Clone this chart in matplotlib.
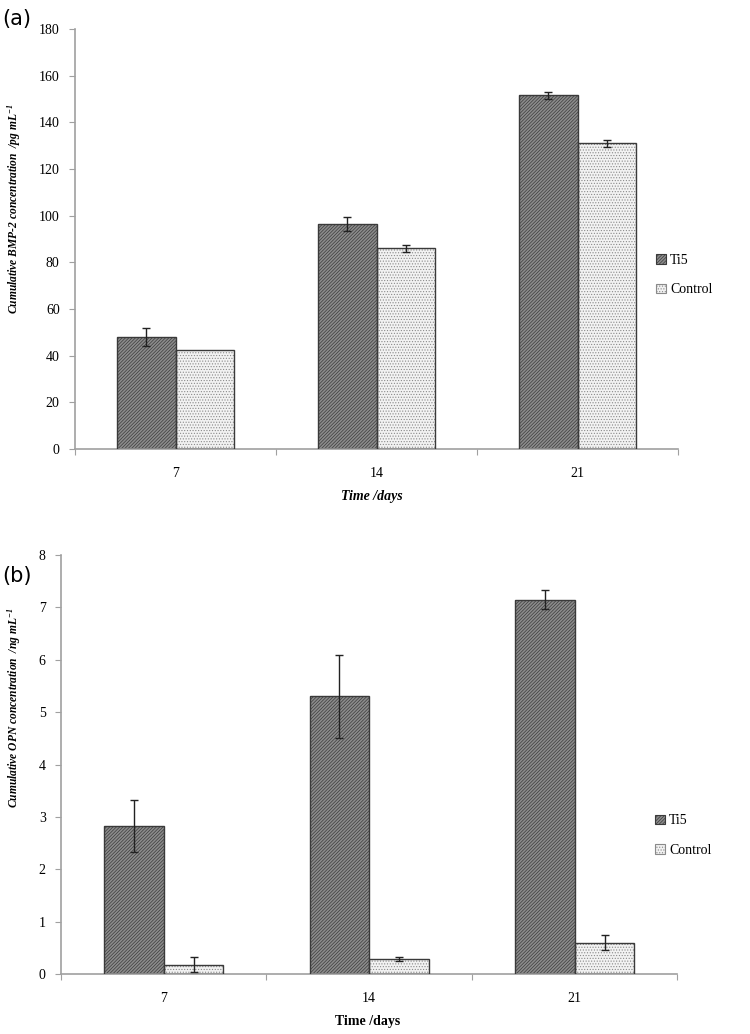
import matplotlib
matplotlib.use("Agg")
import matplotlib.pyplot as plt
import numpy as np
from matplotlib.patches import Patch

days = ["7", "14", "21"]
series = ["Ti5", "Control"]

bmp_ti5 = [48.0, 96.5, 151.5]
bmp_ti5_err = [4.0, 3.0, 1.5]
bmp_ctrl = [42.5, 86.0, 131.0]
bmp_ctrl_err = [0.0, 1.5, 1.5]

opn_ti5 = [2.83, 5.30, 7.15]
opn_ti5_err = [0.50, 0.80, 0.18]
opn_ctrl = [0.18, 0.28, 0.60]
opn_ctrl_err = [0.15, 0.04, 0.14]

plt.rcParams['font.family'] = ['Liberation Serif', 'DejaVu Serif']
plt.rcParams['hatch.linewidth'] = 0.5
plt.rcParams['mathtext.fontset'] = 'custom'
plt.rcParams['mathtext.rm'] = 'Liberation Serif'
plt.rcParams['mathtext.it'] = 'Liberation Serif:italic'
plt.rcParams['mathtext.bf'] = 'Liberation Serif:bold:italic'

fig = plt.figure(figsize=(7.5, 10.34), dpi=100)

AXC = '#a0a0a0'
TI_FACE, TI_HATCH, TI_PAT = '#8c8c8c', '#3a3a3a', '//////////'
CT_FACE, CT_HATCH, CT_PAT = '#f2f2f2', '#8a8a8a', '......'
EDGE = '#3a3a3a'
FS = 10


def panel(rect, ti, tie, ct, cte, ymax, ystep, ylabel, xlabel_style, leg_x, leg_y,
          ylab_xy, xlab_xy):
    ax = fig.add_axes(rect)
    x = np.arange(len(days)) + 0.5
    w = 0.29
    for vals, errs, off, face, hc, pat in [(ti, tie, -w / 2, TI_FACE, TI_HATCH, TI_PAT),
                                           (ct, cte, w / 2, CT_FACE, CT_HATCH, CT_PAT)]:
        ax.bar(x + off, vals, w, color=face, edgecolor=hc, linewidth=0, hatch=pat, zorder=2)
        ax.bar(x + off, vals, w, fill=False, edgecolor=EDGE, linewidth=1.0, zorder=3)
        e = np.asarray(errs, dtype=float)
        m = e > 0
        ax.errorbar((x + off)[m], np.asarray(vals)[m], yerr=e[m], fmt='none', ecolor='#222222',
                    elinewidth=1.0, capsize=3, capthick=1.0, zorder=4)
    ax.set_xlim(0, len(days))
    ax.set_ylim(0, ymax)
    ax.set_yticks(np.arange(0, ymax + ystep / 2, ystep))
    ax.set_xticks(np.arange(0, len(days) + 1), minor=False)
    ax.set_xticklabels([])
    ax.set_xticks(x, minor=True)
    ax.set_xticklabels(days, minor=True)
    ax.tick_params(axis='x', which='major', length=4, color=AXC, direction='out')
    ax.tick_params(axis='x', which='minor', length=0, pad=13, labelsize=FS)
    ax.tick_params(axis='y', length=4, color=AXC, labelsize=FS, pad=7)
    for s in ['top', 'right']:
        ax.spines[s].set_visible(False)
    for s in ['left', 'bottom']:
        ax.spines[s].set_color(AXC)
        ax.spines[s].set_linewidth(1.2)
    ax.set_ylabel(ylabel, fontsize=8.3, fontweight='bold', fontstyle='italic')
    ax.yaxis.set_label_coords(*ylab_xy)
    ax.set_xlabel('Time /days', fontsize=FS, fontweight='bold', fontstyle=xlabel_style)
    ax.xaxis.set_label_coords(*xlab_xy)
    handles = [Patch(facecolor=TI_FACE, edgecolor=TI_HATCH, hatch=TI_PAT, linewidth=0.8),
               Patch(facecolor=CT_FACE, edgecolor=CT_HATCH, hatch=CT_PAT, linewidth=0.8)]
    ax.legend(handles, series, loc='center left', bbox_to_anchor=(leg_x, leg_y), frameon=False,
              fontsize=FS, handlelength=0.7, handleheight=0.7, handletextpad=0.3, labelspacing=1.2,
              borderaxespad=0.0)
    return ax


ax1 = panel([0.100, 0.5658, 0.804, 0.4062], bmp_ti5, bmp_ti5_err, bmp_ctrl, bmp_ctrl_err,
            180, 20, 'Cumulative BMP-2 concentration  /pg mL$^{\\mathbf{-1}}$', 'italic', 0.955, 0.414,
            (-0.086, 0.571), (0.493, -0.098))
ax2 = panel([0.0813, 0.058, 0.822, 0.4052], opn_ti5, opn_ti5_err, opn_ctrl, opn_ctrl_err,
            8, 1, 'Cumulative OPN concentration  /ng mL$^{\\mathbf{-1}}$', 'normal', 0.955, 0.33,
            (-0.062, 0.635), (0.497, -0.098))

fig.text(0.003, 0.982, '(a)', fontsize=15, family='DejaVu Sans', va='center', ha='left')
fig.text(0.003, 0.443, '(b)', fontsize=15, family='DejaVu Sans', va='center', ha='left')

fig.savefig('out.png', dpi=100)
